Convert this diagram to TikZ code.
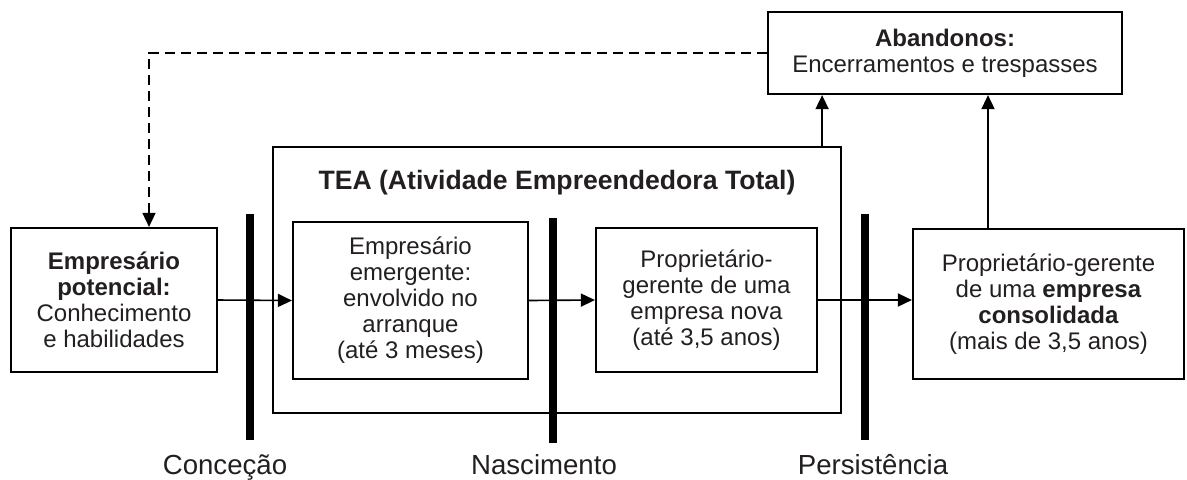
\documentclass[tikz,border=0pt]{standalone}
\usepackage{fontspec}
\setmainfont{Liberation Sans}
\usetikzlibrary{arrows.meta}
\definecolor{ink}{HTML}{231F20}
\tikzset{
  >={Triangle[length=7pt,width=6.5pt]},
  box/.style={draw=black, line width=1.1pt, align=center, text=ink, inner sep=0pt,
              font=\fontsize{12}{13}\selectfont},
  bar/.style={line width=3.6pt},
  link/.style={->, line width=0.8pt},
  back/.style={->, line width=0.8pt, dash pattern=on 5pt off 3pt},
  phase/.style={text=ink, inner sep=0pt, anchor=base, font=\fontsize{13.8}{15}\selectfont},
}

\begin{document}
\begin{tikzpicture}[x=0.5pt, y=-0.5pt]
\useasboundingbox (0,0) rectangle (1187,479);

% ---------------- TEA frame ----------------
\node[box, minimum width=284pt, minimum height=133pt] (tea) at (557,280) {};
\node[text=ink, inner sep=0pt, font=\fontsize{13.3}{15}\selectfont\bfseries] (teatitle) at (557,183)
  {TEA (Atividade Empreendedora Total)};

% ---------------- phase bars ----------------
\draw[bar] (250,214) coordinate (concA) -- (250,440) coordinate (concB);
\draw[bar] (553,218) coordinate (nascA) -- (553,443) coordinate (nascB);
\draw[bar] (865,214) coordinate (persA) -- (865,440) coordinate (persB);
\node[phase] (conc) at (225,474) {Conceção};
\node[phase] (nasc) at (544,474) {Nascimento};
\node[phase] (pers) at (873,474) {Persistência};

% ---------------- stages ----------------
\node[box, minimum width=103pt, minimum height=72pt] (pot) at (114,300)
  {\textbf{Empresário}\\\textbf{potencial:}\\Conhecimento\\e habilidades};
\node[box, minimum width=117.5pt, minimum height=78.5pt] (emer) at (410.5,300.5)
  {Empresário\\emergente:\\envolvido no\\arranque\\(até 3 meses)};
\node[box, minimum width=110.5pt, minimum height=72pt] (nova) at (706.5,300)
  {Proprietário-\\gerente de uma\\empresa nova\\(até 3,5 anos)};
\node[box, minimum width=135.5pt, minimum height=75pt] (cons) at (1048.5,304)
  {Proprietário-gerente\\de uma \textbf{empresa}\\\textbf{consolidada}\\(mais de 3,5 anos)};
\node[box, minimum width=177pt, minimum height=41pt] (aband) at (945,53)
  {\textbf{Abandonos:}\\Encerramentos e trespasses};

% ---------------- flows ----------------
\draw[link] (pot.east) -- (emer.west);
\draw[link] (emer.east) -- (nova.west);
\draw[link] (nova.east) -- (nova.east -| cons.west);
\draw[link] ([xshift=-10pt]tea.north east) -- ([xshift=-10pt]tea.north east |- aband.south);
\draw[link] ([xshift=-30.25pt]cons.north) -- ([xshift=-30.25pt]cons.north |- aband.south);
\draw[back] (aband.west) -| ([xshift=17.5pt]pot.north);

\end{tikzpicture}
\end{document}
